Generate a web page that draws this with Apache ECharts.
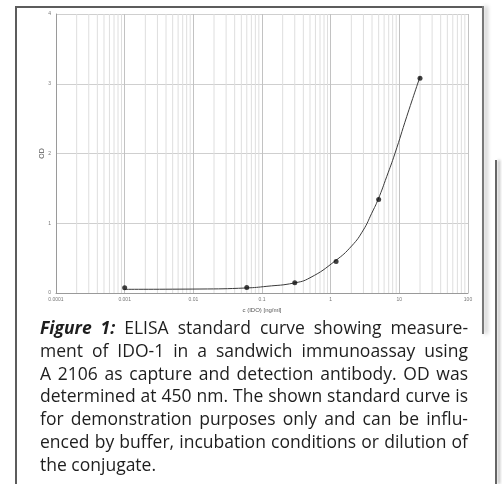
<!DOCTYPE html>
<html>
<head>
<meta charset="utf-8">
<script src="https://cdn.jsdelivr.net/npm/echarts@6/dist/echarts.min.js"></script>
<style>
  html, body { margin: 0; padding: 0; background: #fff; }
  #page { position: relative; width: 502px; height: 484px; overflow: hidden; }
  #chart { position: absolute; left: 0; top: 0; width: 502px; height: 320px; }
  .edge { position: absolute; z-index: 5; }
  #caption {
    position: absolute; left: 40px; top: 316px; width: 428px; z-index: 5;
    font-family: "Open Sans", "Noto Sans", sans-serif; font-size: 17.5px;
    line-height: 22.8px; color: #1e1e1e;
  }
  #caption div { white-space: nowrap; text-align: justify; text-align-last: justify; }
  #caption div.last { text-align-last: left; }
</style>
</head>
<body>
<div id="page">
  <div id="chart"></div>
  <!-- frame around the figure -->
  <div class="edge" style="left:15px;top:6px;width:2px;height:478px;background:#5c5c5c"></div>
  <div class="edge" style="left:15px;top:6px;width:469px;height:2px;background:#5c5c5c"></div>
  <div class="edge" style="left:482px;top:6px;width:2px;height:328px;background:#777;box-shadow:3px 0 4px rgba(0,0,0,.35)"></div>
  <div class="edge" style="left:495px;top:160px;width:2px;height:324px;background:#666;box-shadow:3px 0 3px rgba(0,0,0,.3)"></div>
  <div id="caption">
    <div><b><i>Figure 1:</i></b> ELISA standard curve showing measure-</div>
    <div>ment of IDO-1 in a sandwich immunoassay using</div>
    <div>A 2106 as capture and detection antibody. OD was</div>
    <div>determined at 450 nm. The shown standard curve is</div>
    <div>for demonstration purposes only and can be influ-</div>
    <div>enced by buffer, incubation conditions or dilution of</div>
    <div class="last">the conjugate.</div>
  </div>
</div>
<script>
    // measured standards
    var pointX = [0.001, 0.06, 0.3, 1.2, 5, 20];
    var pointY = [0.076, 0.08, 0.147, 0.45, 1.34, 3.08];

    // fitted curve
    var curveX = [0.001, 0.0125, 0.0585, 0.118, 0.292, 0.5, 1.16, 2.02, 2.99, 3.96, 4.94, 6.54, 8.65, 12.8, 20];
    var curveY = [0.053, 0.057, 0.072, 0.096, 0.143, 0.218, 0.459, 0.674, 0.903, 1.143, 1.348, 1.667, 2.003, 2.528, 3.10];

    var xTickLabels = ['0.0001', '0.001', '0.01', '0.1', '1', '10', '100'];
    var yTickLabels = ['0', '1', '2', '3', '4'];

    // minor grid positions (2..9 within each decade)
    var decades = [0.0001, 0.001, 0.01, 0.1, 1, 10];
    var minorSteps = [2, 3, 4, 5, 6, 7, 8, 9];

    // vertical minor grid as one broken line: bottom, top, gap
    var minorGrid = [];
    decades.forEach(function (d) {
        minorSteps.forEach(function (m) {
            var v = +(m * d).toPrecision(3);
            minorGrid.push([v, 0], [v, 4], [v, '-']);
        });
    });

    var chart = echarts.init(document.getElementById('chart'), null, { renderer: 'canvas' });

    var tickFont = 'Liberation Sans, Arial, sans-serif';

    var option = {
        animation: false,
        backgroundColor: 'transparent',
        grid: { left: 56, top: 14, width: 412, height: 279 },
        xAxis: {
            type: 'log',
            logBase: 10,
            min: 0.0001,
            max: 100,
            axisLine: { show: true, lineStyle: { color: '#9a9a9a', width: 1 } },
            axisTick: { show: false },
            splitLine: { show: true, lineStyle: { color: '#c2c2c2', width: 1 } },
            axisLabel: {
                margin: 4,
                fontFamily: tickFont, fontSize: 5, color: '#777',
                formatter: function (v) {
                    var i = Math.round(Math.log10(v)) + 4;
                    return xTickLabels[i] || '';
                }
            },
            name: 'c (IDO) [ng/ml]',
            nameLocation: 'middle',
            nameGap: 14,
            nameTextStyle: { fontFamily: tickFont, fontSize: 6, color: '#555' }
        },
        yAxis: {
            type: 'value',
            min: 0,
            max: 4,
            interval: 1,
            axisLine: { show: true, lineStyle: { color: '#9a9a9a', width: 1 } },
            axisTick: { show: false },
            splitLine: { show: true, lineStyle: { color: '#cfcfcf', width: 1 } },
            axisLabel: {
                margin: 5,
                fontFamily: tickFont, fontSize: 5, color: '#777',
                formatter: function (v) { return yTickLabels[Math.round(v)]; }
            },
            name: 'OD',
            nameLocation: 'middle',
            nameGap: 10,
            nameMoveOverlap: false,
            nameTextStyle: { fontFamily: tickFont, fontSize: 7, color: '#555' }
        },
        series: [
            {
                name: 'minor grid',
                type: 'line',
                data: minorGrid,
                connectNulls: false,
                symbol: 'none',
                silent: true,
                lineStyle: { color: '#dedede', width: 1 },
                z: 1
            },
            {
                name: 'fit',
                type: 'line',
                data: curveX.map(function (x, i) { return [x, curveY[i]]; }),
                smooth: 0.5,
                symbol: 'none',
                lineStyle: { color: '#3a3a3a', width: 1 },
                z: 3
            },
            {
                name: 'standards',
                type: 'scatter',
                data: pointX.map(function (x, i) { return [x, pointY[i]]; }),
                symbol: 'circle',
                symbolSize: 5,
                itemStyle: { color: '#111' },
                z: 5
            }
        ]
    };

    chart.setOption(option);
</script>
</body>
</html>
